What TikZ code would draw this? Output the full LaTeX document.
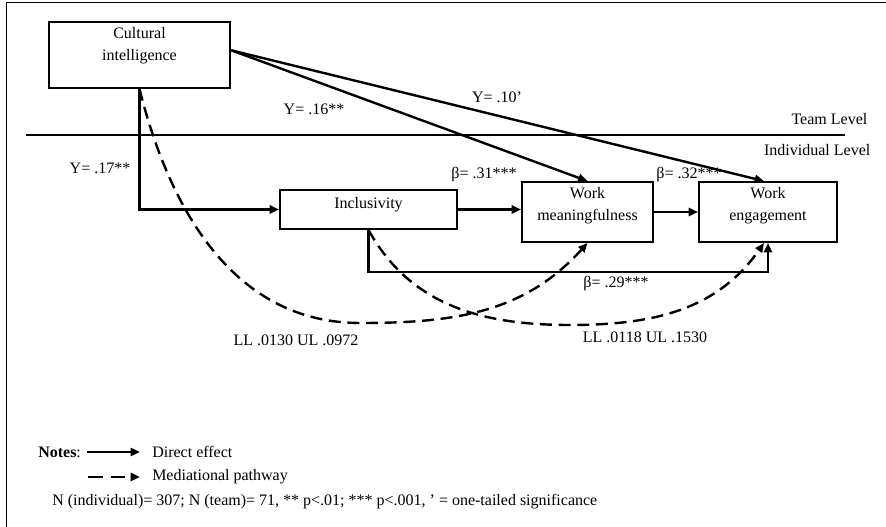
\documentclass[tikz,border=0pt]{standalone}
\usepackage{fontspec}
\setmainfont{Liberation Serif}
\usetikzlibrary{positioning,arrows.meta}

\tikzset{
  var/.style={draw, line width=1.4pt, align=center, inner sep=0pt,
    font=\fontsize{12}{16.5}\selectfont},
  direct/.style={line width=1.8pt, -{Triangle[length=7pt,width=6pt]}},
  mediate/.style={direct, dash pattern=on 9pt off 5pt},
  lbl/.style={inner sep=0pt},
}

\begin{document}
\begin{tikzpicture}[x=0.75pt, y=-0.75pt, font=\fontsize{12}{14}\selectfont]
  \useasboundingbox (0,0) rectangle (886,527);
  % Frame and levels
  \draw[line width=1.4pt] (6.5,527) -- (6.5,2.5) -- (886,2.5);
  \draw[line width=0.9pt] (26,135) -- (845,135);
  \node[anchor=east] (team) at (872,119) {Team Level}; %
  \node[anchor=east] (indiv) at (875,150) {Individual Level}; %

  % Nodes
  \node[var, minimum width=135.75pt, minimum height=49.5pt, text depth=16.8pt] (ci) at (139.5,55) {Cultural\\intelligence} ; %
  \node[var, minimum width=132.75pt, minimum height=29.25pt, text depth=10.5pt] (incl) at (368.5,209.5) {Inclusivity} ; %
  \node[var, minimum width=98.25pt, minimum height=45pt, text depth=12.3pt] (wm) at (587.5,212) {Work\\meaningfulness} ; %
  \node[var, minimum width=103.5pt, minimum height=45pt, text depth=12.3pt] (we) at (768,212) {Work\\engagement} ; %

  % Direct effects
  \draw[direct] (ci.south) |- (incl.west) ; %
  \draw[direct] (ci.3) -- (wm.north) ; %
  \draw[direct] (ci.3) -- ([xshift=-3pt]we.north) ; %
  \draw[direct] (incl.east) -- (incl.east -| wm.west) ; %
  \draw[direct] (wm.east) -- (we.west) ; %
  \draw[direct] (incl.south) -- ++(0,42) -| (we.south) ; %

  % Mediational pathways
  \coordinate (low1) at (360,323) ; %
  \coordinate (low2) at (570,325) ; %
  \draw[mediate] (ci.south) to[out=-76,in=180] (low1) to[out=0,in=-132] (wm.south) ; %
  \draw[mediate] (incl.south) to[out=-61,in=180] (low2) to[out=0,in=-125] ([xshift=-3pt]we.south) ; %

  % Coefficients
  \node[lbl] (g17) at (100,168) {Y= .17**} ; %
  \node[lbl] (g16) at (314,109) {Y= .16**} ; %
  \node[lbl] (g10) at (497,97) {Y= .10'} ; %
  \node[lbl] (b31) at (484,175) {β= .31***} ; %
  \node[lbl] (b32) at (689,175) {β= .32***} ; %
  \node[lbl] (b29) at (616,284) {β= .29***} ; %
  \node[lbl] (ci1) at (296,340) {LL .0130 UL .0972} ; %
  \node[lbl] (ci2) at (645,337) {LL .0118 UL .1530} ; %

  % Legend
  \node[lbl, anchor=west] (notes) at (38,452) {\textbf{Notes}:} ; %
  \node[lbl, anchor=west] (directlbl) at (152,452) {Direct effect} ; %
  \node[lbl, anchor=west] (medlbl) at (152,477) {Mediational pathway} ; %
  \coordinate (medstart) at (88,477) ; %
  \draw[direct, shorten <=4.5pt] (notes.east) -- ([xshift=-9pt]directlbl.west) ; %
  \draw[mediate, dash pattern=on 11pt off 6pt] (medstart) -- ([xshift=-9pt]medlbl.west) ; %
  \node[lbl, anchor=west] (foot) at (52,502) {N (individual)= 307; N (team)= 71, ** p<.01; *** p<.001, ' = one-tailed significance} ; %
\end{tikzpicture}
\end{document}
